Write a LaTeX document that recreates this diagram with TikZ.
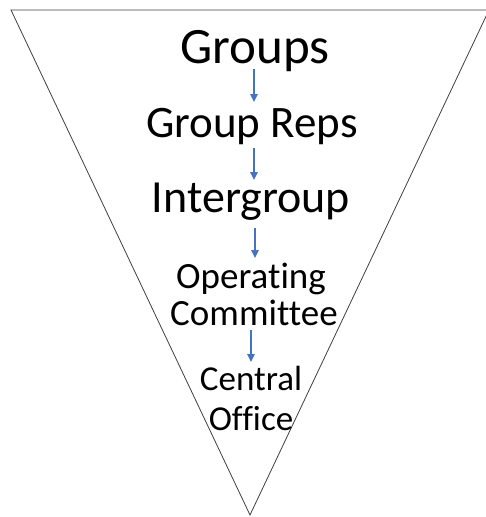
\documentclass[tikz,border=0pt]{standalone}
\usepackage{fontspec}
\setmainfont[Ligatures=NoCommon]{Carlito}
\usetikzlibrary{arrows.meta}
\definecolor{arrowblue}{HTML}{4472C4}
\definecolor{edgegray}{HTML}{404040}
\tikzset{
  lbl/.style={inner sep=0pt, outer sep=0pt, anchor=base, text=black},
  arr/.style={draw=arrowblue, line width=1.6pt, -{Triangle[length=8pt,width=7.5pt]}},
  funnel/.style={draw=edgegray, line width=0.8pt, line join=miter}
}
\begin{document}
\begin{tikzpicture}[x=1pt,y=-1pt]
\useasboundingbox (0,0) rectangle (486,517);
\clip (0,0) rectangle (486,517);
\fill[white] (0,0) rectangle (486,517);
\draw[funnel] (11,10) -- (489,10) -- (250,515) -- cycle;
\node[lbl, font=\fontsize{51}{51}\selectfont, text depth=6pt] (groups) at (255,63) {Groups};
\node[lbl, font=\fontsize{45}{45}\selectfont, text height=35pt, text depth=11pt] (reps) at (252,137) {Group Reps};
\node[lbl, font=\fontsize{46}{46}\selectfont, text height=32pt, text depth=16pt] (inter) at (251,212) {Intergroup};
\node[lbl, font=\fontsize{37}{37}\selectfont, text height=30pt] (oper) at (251,288) {Operating};
\node[lbl, font=\fontsize{37}{37}\selectfont, text depth=5pt] (comm) at (254,325) {Committee};
\node[lbl, font=\fontsize{35}{35}\selectfont, text height=28pt] (central) at (251,390) {Central};
\node[lbl, font=\fontsize{35}{35}\selectfont] (office) at (251,430) {Office};
\draw[arr] ([xshift=-1pt]groups.south) -- ([xshift=-1pt]groups.south |- reps.north);
\draw[arr] ([xshift=2pt]reps.south) -- ([xshift=2pt]reps.south |- inter.north);
\draw[arr] ([xshift=4pt]inter.south) -- ([xshift=4pt]inter.south |- oper.north);
\draw[arr] ([xshift=-3pt]comm.south) -- ([xshift=-3pt]comm.south |- central.north);
\end{tikzpicture}
\end{document}
